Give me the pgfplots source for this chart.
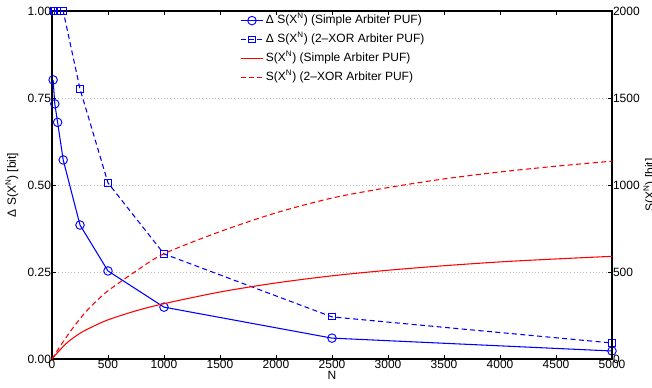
\documentclass[border=0pt]{standalone}
\usepackage{pgfplots}
\pgfplotsset{compat=1.18}
\usepackage{fontspec}
\setmainfont{Liberation Sans}
\newcommand{\fs}{\fontsize{9}{10.5}\selectfont}
\begin{document}
\begin{tikzpicture}
\pgfplotsset{
  every axis/.append style={font=\fs},
  /pgf/number format/assume math mode=true,
  /pgf/number format/1000 sep={},
}
\begin{axis}[
  name=main,
  at={(0,0)}, anchor=south west,
  scale only axis, width=420pt, height=261pt,
  xmin=0, xmax=5000, ymin=0, ymax=1,
  clip=false,
  axis line style={line width=1.1pt},
  xtick={0,500,...,5000}, scaled x ticks=false,
  ytick={0,0.25,0.5,0.75,1},
  yticklabel style={/pgf/number format/fixed, /pgf/number format/fixed zerofill, /pgf/number format/precision=2, inner sep=0.6pt},
  xticklabel style={inner sep=1pt},
  xticklabel pos=lower, ytick pos=left,
  tick align=inside, major tick length=3pt,
  tick style={line width=0.6pt, black},
  ymajorgrids, grid style={dotted, gray!55, line width=0.5pt},
  xlabel={N}, xlabel style={inner sep=0pt, yshift=-0.5pt},
  ylabel={Δ S(X\textsuperscript{N}) [bit]},
  every axis y label/.style={at={(axis description cs:-0.0839,0.5)}, anchor=north, rotate=90, inner sep=0pt},
]
\addplot[blue, line width=0.8pt, mark=o, mark size=3.2pt, mark options={solid, line width=0.7pt}] coordinates {
  (10,0.802) (25,0.733) (50,0.680) (100,0.572) (250,0.385) (500,0.253) (1000,0.149) (2500,0.060) (5000,0.023)
};
\addplot[blue, line width=0.8pt, dash pattern=on 3.8pt off 2.5pt, mark=square, mark size=2.3pt, mark options={solid, line width=0.7pt}] coordinates {
  (10,1.0) (25,1.0) (50,1.0) (100,1.0) (250,0.776) (500,0.506) (1000,0.302) (2500,0.121) (5000,0.046)
};
\end{axis}
\begin{axis}[
  at={(0,0)}, anchor=south west,
  scale only axis, width=420pt, height=261pt,
  xmin=0, xmax=5000, ymin=0, ymax=2000,
  clip=false,
  axis x line=none, axis y line*=right,
  axis line style={line width=1.1pt},
  ytick={0,500,...,2000},
  yticklabel style={inner sep=0.6pt},
  tick align=inside, major tick length=3pt,
  tick style={line width=0.6pt, black},
  ylabel={S(X\textsuperscript{N}) [bit]},
  every axis y label/.style={at={(axis description cs:1.0554,0.5)}, anchor=north, rotate=90, inner sep=0pt},
  legend style={draw=none, fill=none, inner sep=0pt, outer sep=0pt,
    at={(axis description cs:0.3357,0.99)}, anchor=north west,
    nodes={inner sep=0pt, text height=7pt, text depth=2.2pt, font=\fs},
    row sep=5pt, column sep=1.5pt},
  legend cell align=left,
]
\addlegendimage{blue, line width=0.8pt, mark=o, mark size=3.2pt, mark options={solid, line width=0.7pt}}
\addlegendentry{Δ S(X\textsuperscript{N}) (Simple Arbiter PUF)}
\addlegendimage{blue, line width=0.8pt, dash pattern=on 3.8pt off 2.5pt, mark=square, mark size=2.3pt, mark options={solid, line width=0.7pt}}
\addlegendentry{Δ S(X\textsuperscript{N}) (2--XOR Arbiter PUF)}
\addlegendimage{draw=red, line width=0.8pt}
\addlegendentry{S(X\textsuperscript{N}) (Simple Arbiter PUF)}
\addlegendimage{draw=red, line width=0.9pt, dash pattern=on 3.8pt off 2.5pt}
\addlegendentry{S(X\textsuperscript{N}) (2--XOR Arbiter PUF)}
\addplot[red, line width=0.8pt, smooth, forget plot] coordinates {
  (0,0) (25,19) (50,37) (100,72) (150,102) (250,148) (350,182) (500,225) (750,277) (1000,318) (1500,385) (2000,437) (2500,478) (3000,510) (3500,536) (4000,558) (4500,575) (5000,590)
};
\addplot[red, line width=0.8pt, dash pattern=on 3.8pt off 2.5pt, smooth, forget plot] coordinates {
  (0,0) (50,51) (100,100) (200,190) (300,270) (400,335) (500,392) (750,505) (1000,605) (1500,732) (2000,840) (2500,925) (3000,985) (3500,1035) (4000,1075) (4500,1108) (5000,1137)
};
\end{axis}
\pgfresetboundingbox
\path[use as bounding box] (-39pt,-21.75pt) rectangle (450pt,269.25pt);
\end{tikzpicture}
\end{document}
